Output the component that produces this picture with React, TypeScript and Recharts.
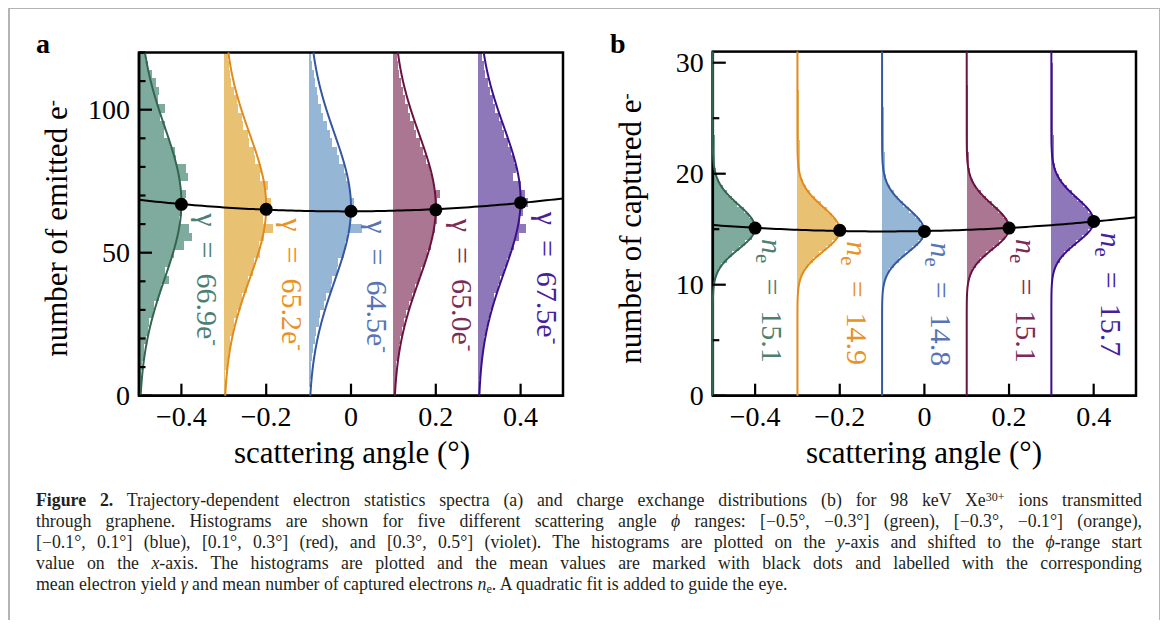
import React from 'react';
import { ComposedChart, Scatter, XAxis, YAxis, ReferenceArea } from 'recharts';

const SERIF = '"Liberation Serif", "Times New Roman", serif';

// ---------- shared ----------
const SERIES = ['green', 'orange', 'blue', 'red', 'violet'];
const RANGE_START = [-0.5, -0.3, -0.1, 0.1, 0.3];
const RANGE_MID = [-0.4, -0.2, 0, 0.2, 0.4];
const FILL = ['#7fab9f', '#e9c173', '#95b6d5', '#aa7692', '#8f78ba'];
const LINE = ['#33664f', '#e38a1c', '#3557a0', '#6a1240', '#3b0f8c'];
const TEXT = ['#4d8070', '#e8922a', '#5874b5', '#7a2c57', '#4a1d9a'];
const X_TICKS = [-0.4, -0.2, 0, 0.2, 0.4];

// ---------- panel a : emitted electrons (bins of 3 e-, widths in 1/1000 degree) ----------
const A_Y_TICKS = [0, 10, 20, 30, 40, 50, 60, 70, 80, 90, 100, 110, 120];
const A_Y_MAJOR = [0, 50, 100];
const A_BIN_LO = 0;
const A_BIN = 3;
const A_HIST_GREEN = [3, 5, 4, 8, 12, 11, 17, 22, 24, 33, 35, 46, 52, 70, 62, 72, 82, 105, 125, 118, 95, 102, 108, 112, 96, 115, 110, 88, 86, 74, 60, 62, 50, 62, 44, 48, 40, 30, 22, 15];
const A_HIST_ORANGE = [3, 5, 4, 8, 9, 14, 15, 22, 24, 30, 40, 42, 55, 56, 70, 72, 85, 84, 95, 115, 92, 108, 112, 96, 104, 86, 88, 74, 72, 60, 58, 45, 42, 34, 30, 24, 18, 15, 12, 9];
const A_HIST_BLUE = [2, 3, 5, 6, 9, 10, 16, 18, 25, 28, 37, 40, 52, 55, 68, 70, 84, 86, 90, 125, 98, 104, 106, 100, 95, 88, 84, 72, 68, 56, 50, 44, 34, 30, 22, 20, 14, 12, 8, 6];
const A_HIST_RED = [3, 4, 5, 7, 10, 13, 15, 21, 25, 30, 37, 45, 50, 60, 64, 75, 80, 88, 90, 98, 104, 100, 102, 110, 96, 90, 86, 78, 70, 62, 54, 48, 40, 34, 28, 22, 18, 14, 11, 9];
const A_HIST_VIOLET = [2, 3, 5, 6, 8, 12, 14, 18, 22, 27, 34, 38, 46, 52, 60, 68, 74, 85, 96, 112, 98, 106, 118, 110, 100, 82, 90, 84, 78, 70, 62, 55, 48, 40, 34, 28, 22, 17, 13, 10];
const A_MEAN = [66.9, 65.2, 64.5, 65.0, 67.5];
const A_FIT_CENTER = [67.5, 66.2, 65.8, 66.0, 68.5];
const A_FIT_SIGMA_LOW = [26.5, 25.5, 26.0, 25.5, 25.5];
const A_FIT_SIGMA_HIGH = [26.5, 25.5, 26.0, 25.5, 25.5];
const A_FIT_PEAK = [0.1, 0.1, 0.1, 0.1, 0.1];
const A_QUAD = [64.45, 0.5, 17.14];

// ---------- panel b : captured electrons (bins of 0.5 e-, widths in 1/1000 degree) ----------
const B_Y_TICKS = [0, 5, 10, 15, 20, 25, 30];
const B_Y_MAJOR = [0, 10, 20, 30];
const B_BIN_LO = 9;
const B_BIN = 0.5;
const B_HIST_GREEN = [1, 2, 4, 7, 13, 20, 33, 45, 63, 76, 92, 97, 102, 94, 86, 74, 58, 46, 33, 23, 15, 10, 7, 6, 6, 5, 5, 5, 5, 4, 4, 4, 4, 3, 3, 3, 2, 2, 1, 0, 0, 0, 0, 0];
const B_HIST_ORANGE = [1, 3, 5, 9, 16, 25, 37, 51, 67, 82, 94, 99, 99, 92, 82, 69, 55, 42, 30, 20, 13, 9, 7, 6, 5, 5, 5, 5, 4, 4, 4, 4, 3, 3, 3, 3, 3, 2, 2, 2, 2, 1, 1, 1];
const B_HIST_BLUE = [1, 3, 6, 10, 17, 27, 40, 55, 71, 85, 96, 100, 97, 90, 78, 64, 50, 38, 27, 18, 12, 9, 7, 6, 6, 6, 5, 5, 5, 5, 4, 4, 4, 4, 3, 3, 3, 3, 3, 2, 2, 2, 2, 1];
const B_HIST_RED = [1, 2, 4, 7, 12, 21, 32, 46, 62, 77, 90, 98, 100, 95, 86, 73, 59, 45, 33, 22, 14, 9, 7, 5, 5, 5, 4, 4, 4, 4, 3, 3, 3, 3, 2, 2, 2, 2, 1, 1, 1, 1, 1, 1];
const B_HIST_VIOLET = [0, 1, 2, 4, 7, 12, 20, 30, 43, 58, 73, 87, 96, 100, 96, 87, 75, 61, 48, 36, 25, 17, 11, 8, 7, 6, 6, 6, 6, 5, 5, 5, 5, 4, 4, 4, 4, 4, 3, 3, 3, 3, 2, 2];
const B_MEAN = [15.1, 14.9, 14.8, 15.1, 15.7];
const B_FIT_CENTER = [15.1, 14.9, 14.8, 15.1, 15.7];
const B_FIT_SIGMA_LOW = [1.9, 1.9, 1.9, 1.9, 1.9];
const B_FIT_SIGMA_HIGH = [2.1, 2.1, 2.1, 2.1, 2.1];
const B_FIT_PEAK = [0.1, 0.1, 0.1, 0.1, 0.1];
const B_QUAD = [14.834, 0.7, 3.571];

// ---------- helpers ----------
function fmtTick(v: number): string {
  if (v === 0) return '0';
  const s = Math.abs(v).toFixed(1);
  return v < 0 ? '\u2212' + s : s;
}

function gaussCurve(start: number, center: number, sLow: number, sHigh: number, peak: number, yMax: number, step: number) {
  const pts: { x: number; y: number }[] = [];
  const n = Math.round(yMax / step);
  for (let i = 0; i <= n; i++) {
    const y = i * step;
    const s = y < center ? sLow : sHigh;
    pts.push({ x: start + peak * Math.exp(-((y - center) ** 2) / (2 * s * s)), y });
  }
  return pts;
}

function quadCurve(coef: number[]) {
  const pts: { x: number; y: number }[] = [];
  for (let i = 0; i <= 100; i++) {
    const x = -0.5 + i * 0.01;
    pts.push({ x, y: coef[0] + coef[1] * x + coef[2] * x * x });
  }
  return pts;
}

// tick labels plus inward tick marks, drawn by the axes
const XTick = (props: any) => {
  const { x, y, payload } = props;
  return (
    <g>
      <rect x={x - 1.1} y={y - 12} width={2.2} height={12} fill="#000" />
      <text x={x} y={y + 30} textAnchor="middle" fontSize={28} fontFamily={SERIF} fill="#000">
        {fmtTick(payload.value)}
      </text>
    </g>
  );
};

const makeYTick = (majors: number[]) => (props: any) => {
  const { x, y, payload } = props;
  const major = majors.includes(payload.value);
  return (
    <g>
      <rect x={x} y={y - 1.1} width={major ? 13 : 6.5} height={2.2} fill="#000" />
      {major && (
        <text x={x - 9} y={y + 9.5} textAnchor="end" fontSize={28} fontFamily={SERIF} fill="#000">
          {payload.value}
        </text>
      )}
    </g>
  );
};

const dotShape = (props: any) => <circle cx={props.cx} cy={props.cy} r={6.5} fill="#000" />;
const noShape = () => <g />;

const labelShapeA = (props: any) => {
  const { cx, cy, payload } = props;
  const x = cx + 16;
  const y = cy + 9;
  return (
    <text x={x} y={y} transform={`rotate(90 ${x} ${y})`} fill={payload.color} fontFamily={SERIF} fontSize={30}>
      {'\u03b3\u2002=\u2002' + payload.text + 'e'}
      <tspan dy={-12} fontSize={20}>-</tspan>
    </text>
  );
};

const labelShapeB = (props: any) => {
  const { cx, cy, payload } = props;
  const x = cx + 7;
  const y = cy + 11;
  return (
    <text x={x} y={y} transform={`rotate(90 ${x} ${y})`} fill={payload.color} fontFamily={SERIF} fontSize={30}>
      <tspan fontStyle="italic">n</tspan>
      <tspan dy={6} fontSize={21}>e</tspan>
      <tspan dy={-6}>{'\u2002=\u2002' + payload.text}</tspan>
    </text>
  );
};

type PanelCfg = {
  width: number;
  height: number;
  margin: { top: number; right: number; bottom: number; left: number };
  yMax: number;
  yTicks: number[];
  yMajor: number[];
  hists: number[][];
  binLo: number;
  bin: number;
  means: number[];
  centers: number[];
  sLow: number[];
  sHigh: number[];
  peaks: number[];
  quad: number[];
  step: number;
  labelShape: (p: any) => any;
};

const makeBarShape = (color: string) => (p: any) => (
  <rect x={p.x} y={p.y} width={Math.max(0, p.width)} height={Math.max(0, p.height)} fill={color} shapeRendering="crispEdges" />
);

const BAR_SHAPES = FILL.map((c) => makeBarShape(c));
const frameShape = (p: any) => (
  <rect x={p.x} y={p.y} width={p.width} height={p.height} fill="none" stroke="#000" strokeWidth={2.5} />
);

function Panel({ cfg }: { cfg: PanelCfg }) {
  const bars: any[] = [];
  cfg.hists.forEach((h, s) => {
    h.forEach((w, i) => {
      if (w <= 0) return;
      bars.push(
        <ReferenceArea
          key={`bar-${s}-${i}`}
          x1={RANGE_START[s]}
          x2={RANGE_START[s] + w * 0.001}
          y1={cfg.binLo + i * cfg.bin}
          y2={cfg.binLo + (i + 1) * cfg.bin}
          shape={BAR_SHAPES[s]}
          ifOverflow="visible"
        />
      );
    });
  });
  const dots = RANGE_MID.map((x, s) => ({ x, y: cfg.means[s], text: cfg.means[s].toFixed(1), color: TEXT[s] }));
  return (
    <ComposedChart width={cfg.width} height={cfg.height} margin={cfg.margin}>
      <XAxis
        type="number"
        dataKey="x"
        domain={[-0.5, 0.5]}
        ticks={X_TICKS}
        interval={0}
        tick={XTick}
        axisLine={{ stroke: '#000', strokeWidth: 2.5 }}
        tickSize={0}
        tickMargin={0}
        height={40}
      />
      <YAxis
        type="number"
        dataKey="y"
        domain={[0, cfg.yMax]}
        ticks={cfg.yTicks}
        interval={0}
        tick={makeYTick(cfg.yMajor)}
        axisLine={{ stroke: '#000', strokeWidth: 2.5 }}
        tickSize={0}
        tickMargin={0}
        width={60}
      />
      {bars}
      {SERIES.map((name, s) => (
        <Scatter
          key={`fit-${name}`}
          name={`fit-${name}`}
          data={gaussCurve(RANGE_START[s], cfg.centers[s], cfg.sLow[s], cfg.sHigh[s], cfg.peaks[s], cfg.yMax, cfg.step)}
          fill={LINE[s]}
          line={{ stroke: LINE[s], strokeWidth: 2 }}
          lineType="joint"
          shape={noShape}
          isAnimationActive={false}
        />
      ))}
      <Scatter
        name="quadratic"
        data={quadCurve(cfg.quad)}
        fill="#000"
        line={{ stroke: '#000', strokeWidth: 2 }}
        lineType="joint"
        shape={noShape}
        isAnimationActive={false}
      />
      <Scatter name="means" data={dots} fill="#000" shape={dotShape} isAnimationActive={false} />
      <Scatter name="labels" data={dots} fill="#000" shape={cfg.labelShape} isAnimationActive={false} />
      <ReferenceArea x1={-0.5} x2={0.5} y1={0} y2={cfg.yMax} shape={frameShape} ifOverflow="visible" />
    </ComposedChart>
  );
}

const PANEL_A: PanelCfg = {
  width: 580,
  height: 480,
  margin: { top: 44.5, right: 25, bottom: 52.3, left: 71 },
  yMax: 120,
  yTicks: A_Y_TICKS,
  yMajor: A_Y_MAJOR,
  hists: [A_HIST_GREEN, A_HIST_ORANGE, A_HIST_BLUE, A_HIST_RED, A_HIST_VIOLET],
  binLo: A_BIN_LO,
  bin: A_BIN,
  means: A_MEAN,
  centers: A_FIT_CENTER,
  sLow: A_FIT_SIGMA_LOW,
  sHigh: A_FIT_SIGMA_HIGH,
  peaks: A_FIT_PEAK,
  quad: A_QUAD,
  step: 0.5,
  labelShape: labelShapeA,
};

const PANEL_B: PanelCfg = {
  width: 572,
  height: 480,
  margin: { top: 43.6, right: 24, bottom: 52.3, left: 64.8 },
  yMax: 31,
  yTicks: B_Y_TICKS,
  yMajor: B_Y_MAJOR,
  hists: [B_HIST_GREEN, B_HIST_ORANGE, B_HIST_BLUE, B_HIST_RED, B_HIST_VIOLET],
  binLo: B_BIN_LO,
  bin: B_BIN,
  means: B_MEAN,
  centers: B_FIT_CENTER,
  sLow: B_FIT_SIGMA_LOW,
  sHigh: B_FIT_SIGMA_HIGH,
  peaks: B_FIT_PEAK,
  quad: B_QUAD,
  step: 0.05,
  labelShape: labelShapeB,
};

const sup: React.CSSProperties = { position: 'relative', top: '-0.5em', fontSize: '0.6em', lineHeight: 0 };
const capSup: React.CSSProperties = { position: 'relative', top: '-0.45em', fontSize: '0.68em', lineHeight: 0 };
const capSub: React.CSSProperties = { position: 'relative', top: '0.25em', fontSize: '0.68em', lineHeight: 0 };

const lineStyle: React.CSSProperties = { textAlign: 'justify', textAlignLast: 'justify', whiteSpace: 'nowrap', height: 21 };

function YTitle({ cx, cy, children }: { cx: number; cy: number; children: any }) {
  return (
    <div
      style={{
        position: 'absolute',
        left: cx - 200,
        top: cy - 15.5,
        width: 400,
        height: 31,
        lineHeight: '31px',
        fontSize: 31,
        textAlign: 'center',
        transform: 'rotate(-90deg)',
        transformOrigin: '50% 50%',
        whiteSpace: 'nowrap',
      }}
    >
      {children}
    </div>
  );
}

function XTitle({ cx, top, children }: { cx: number; top: number; children: any }) {
  return (
    <div
      style={{
        position: 'absolute',
        left: cx - 200,
        top,
        width: 400,
        height: 31,
        lineHeight: '31px',
        fontSize: 31,
        textAlign: 'center',
        whiteSpace: 'nowrap',
      }}
    >
      {children}
    </div>
  );
}

export default function App() {
  return (
    <div style={{ position: 'relative', width: 1152, height: 612, fontFamily: SERIF, color: '#000' }}>
      <style>{'html,body{overflow:hidden}'}</style>
      <div
        style={{
          position: 'absolute',
          left: 0,
          top: -1,
          width: 1153,
          height: 700,
          border: '2px solid #b4b4b4',
          boxSizing: 'border-box',
        }}
      />
      <div style={{ position: 'absolute', left: 0, top: 0 }}>
        <Panel cfg={PANEL_A} />
      </div>
      <div style={{ position: 'absolute', left: 580, top: 0 }}>
        <Panel cfg={PANEL_B} />
      </div>

      <div style={{ position: 'absolute', left: 28, top: 22, fontSize: 28, lineHeight: '28px', fontWeight: 'bold' }}>a</div>
      <div style={{ position: 'absolute', left: 602, top: 22, fontSize: 28, lineHeight: '28px', fontWeight: 'bold' }}>b</div>

      <YTitle cx={48} cy={220}>
        number of emitted e<span style={sup}>-</span>
      </YTitle>
      <YTitle cx={622} cy={220}>
        number of captured e<span style={sup}>-</span>
      </YTitle>
      <XTitle cx={344} top={428.7}>scattering angle (°)</XTitle>
      <XTitle cx={916} top={428.7}>scattering angle (°)</XTitle>

      <div
        style={{
          position: 'absolute',
          left: 28,
          top: 482,
          width: 1106,
          fontSize: 17.8,
          lineHeight: '21px',
          color: '#231f20',
        }}
      >
        <div style={lineStyle}>
          <b>Figure 2.</b> Trajectory-dependent electron statistics spectra (a) and charge exchange distributions (b) for 98 keV Xe
          <span style={capSup}>30+</span> ions transmitted
        </div>
        <div style={lineStyle}>
          through graphene. Histograms are shown for five different scattering angle <i>ϕ</i> ranges: [−0.5°, −0.3°] (green), [−0.3°, −0.1°] (orange),
        </div>
        <div style={lineStyle}>
          [−0.1°, 0.1°] (blue), [0.1°, 0.3°] (red), and [0.3°, 0.5°] (violet). The histograms are plotted on the <i>y</i>-axis and shifted to the <i>ϕ</i>-range start
        </div>
        <div style={lineStyle}>
          value on the <i>x</i>-axis. The histograms are plotted and the mean values are marked with black dots and labelled with the corresponding
        </div>
        <div style={{ whiteSpace: 'nowrap', height: 21 }}>
          mean electron yield <i>γ</i> and mean number of captured electrons <i>n</i>
          <span style={capSub}>e</span>. A quadratic fit is added to guide the eye.
        </div>
      </div>
    </div>
  );
}
